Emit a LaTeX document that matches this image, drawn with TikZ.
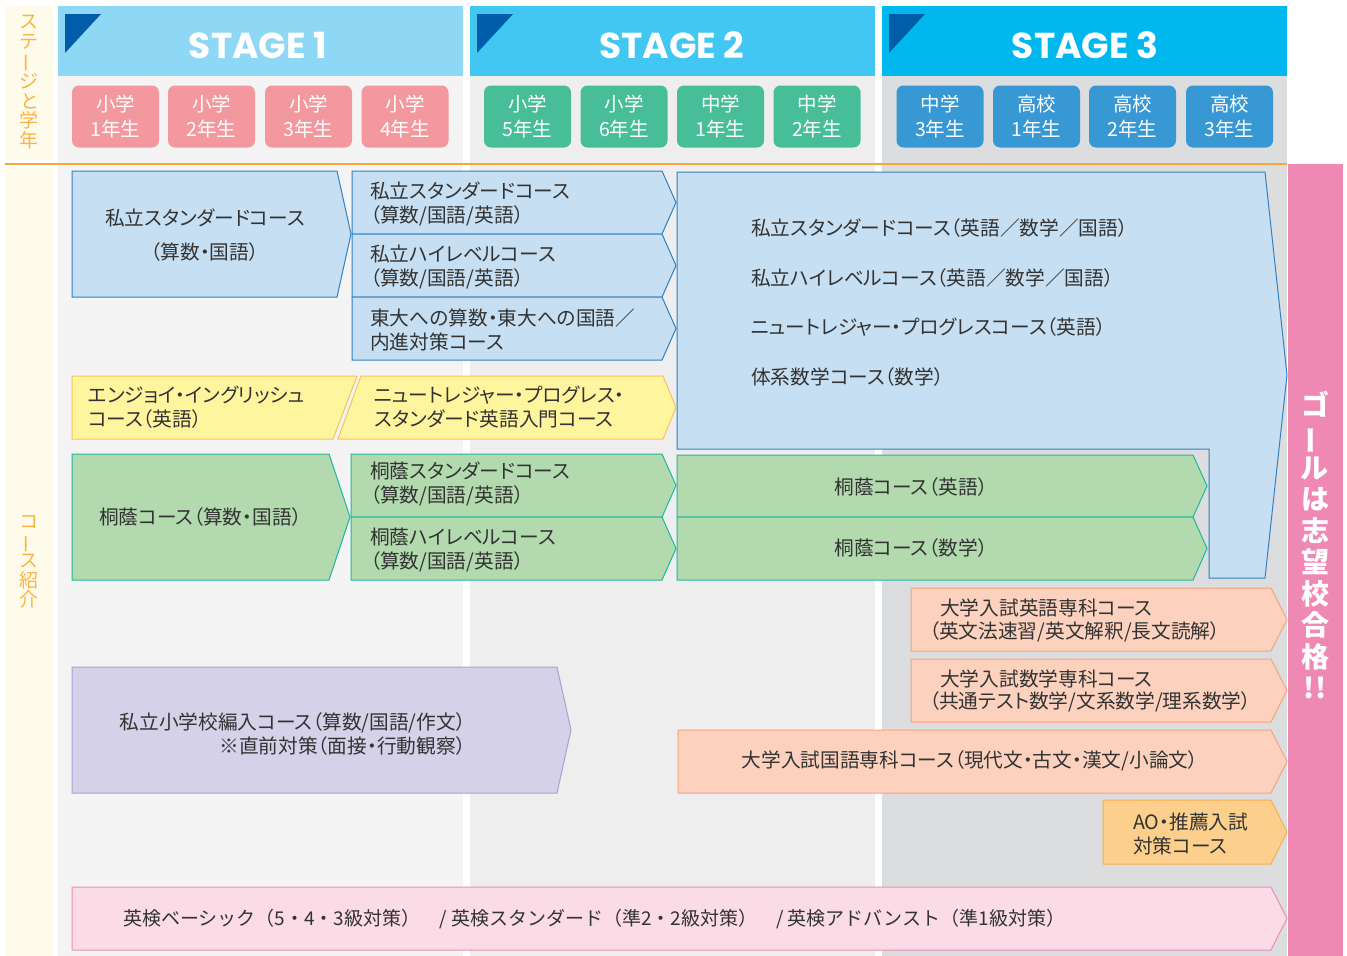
\documentclass[tikz,border=0pt]{standalone}
\usepackage{fontspec}
\usepackage{graphicx}
\setmainfont{Noto Sans CJK JP}[RawFeature=+palt]
\newfontfamily\jpfull{Noto Sans CJK JP}
\newfontfamily\stagefont{Poppins}
\newcommand\vlong{\rotatebox[origin=c]{90}{ー}}
\definecolor{sOne}{HTML}{8FD8F5}
\definecolor{sTwo}{HTML}{42C6F2}
\definecolor{sThree}{HTML}{00B8EE}
\definecolor{darktri}{HTML}{005DAA}
\definecolor{pinkg}{HTML}{F3989F}
\definecolor{greeng}{HTML}{48BE98}
\definecolor{blueg}{HTML}{3798D4}
\definecolor{colOne}{HTML}{F4F4F4}
\definecolor{colTwo}{HTML}{EEEEEE}
\definecolor{colThree}{HTML}{DCDDDF}
\definecolor{cream}{HTML}{FFFBEA}
\definecolor{orangeline}{HTML}{F6A93B}
\definecolor{labelor}{HTML}{F9B443}
\definecolor{goalpink}{HTML}{F088B4}
\definecolor{txt}{HTML}{333333}
\definecolor{bluefill}{HTML}{C7DFF2}
\definecolor{bluestroke}{HTML}{3280C4}
\definecolor{yelfill}{HTML}{FFF59E}
\definecolor{yelstroke}{HTML}{F8C35A}
\definecolor{grnfill}{HTML}{B3DAAF}
\definecolor{grnstroke}{HTML}{20B89B}
\definecolor{purfill}{HTML}{D4D1E8}
\definecolor{purstroke}{HTML}{A6A2D2}
\definecolor{salfill}{HTML}{FCD2BF}
\definecolor{salstroke}{HTML}{F6A380}
\definecolor{aofill}{HTML}{FCD08C}
\definecolor{aostroke}{HTML}{F6B04A}
\definecolor{ekfill}{HTML}{FADBE6}
\definecolor{ekstroke}{HTML}{EF8CB6}
\tikzset{
  ctext/.style={font=\fontsize{19.7}{24}\selectfont, text=txt, inner sep=0pt, align=left},
  grade/.style={rounded corners=7pt, minimum width=87pt, minimum height=62pt, inner sep=0pt, text=white, align=center, font=\fontsize{19.5}{25}\selectfont},
  stagetxt/.style={text=white, inner sep=0pt, font=\stagefont\bfseries\fontsize{36}{36}\selectfont},
  vlabel/.style={text=labelor, inner sep=0pt, align=center, font=\fontsize{19}{19.5}\selectfont},
  bluebox/.style={fill=bluefill, draw=bluestroke, line width=1pt},
  yelbox/.style={fill=yelfill, draw=yelstroke, line width=1pt},
  grnbox/.style={fill=grnfill, draw=grnstroke, line width=1pt},
  purbox/.style={fill=purfill, draw=purstroke, line width=1pt},
  salbox/.style={fill=salfill, draw=salstroke, line width=1pt},
  aobox/.style={fill=aofill, draw=aostroke, line width=1pt},
  ekbox/.style={fill=ekfill, draw=ekstroke, line width=1pt},
}
\begin{document}
\begin{tikzpicture}[x=1pt,y=-1pt]
\useasboundingbox (0,0) rectangle (1347,956);
\fill[white] (0,0) rectangle (1347,956);
% backgrounds
\fill[cream] (5,6) rectangle (53,160);
\fill[cream] (5,168) rectangle (53,956);
\fill[colOne] (58,76) rectangle (463,956);
\fill[colTwo] (470,76) rectangle (875,956);
\fill[colThree] (882,76) rectangle (1287,956);
\fill[goalpink] (1288,164) rectangle (1343,956);
\draw[orangeline, line width=2pt] (5,164) -- (1287,164);
% stage bands
\fill[sOne] (58,6) rectangle (463,76);
\fill[sTwo] (470,6) rectangle (875,76);
\fill[sThree] (882,6) rectangle (1287,76);
\fill[darktri] (65,14) -- (101,14) -- (65,53) -- cycle;
\fill[darktri] (477,14) -- (513,14) -- (477,53) -- cycle;
\fill[darktri] (889,14) -- (925,14) -- (889,53) -- cycle;
\node[stagetxt] (st1) at (258,45) {STAGE 1};
\node[stagetxt] (st2) at (672,45) {STAGE 2};
\node[stagetxt] (st3) at (1085,45) {STAGE 3};
% grade boxes
\node[grade, fill=pinkg] (g1) at (115.5,116.5) {小学\\1年生};
\node[grade, fill=pinkg] (g2) at (211.5,116.5) {小学\\2年生};
\node[grade, fill=pinkg] (g3) at (308.5,116.5) {小学\\3年生};
\node[grade, fill=pinkg] (g4) at (405,116.5) {小学\\4年生};
\node[grade, fill=greeng] (g5) at (527.5,116.5) {小学\\5年生};
\node[grade, fill=greeng] (g6) at (624,116.5) {小学\\6年生};
\node[grade, fill=greeng] (g7) at (720.5,116.5) {中学\\1年生};
\node[grade, fill=greeng] (g8) at (817,116.5) {中学\\2年生};
\node[grade, fill=blueg] (g9) at (940,116.5) {中学\\3年生};
\node[grade, fill=blueg] (g10) at (1036.5,116.5) {高校\\1年生};
\node[grade, fill=blueg] (g11) at (1132.5,116.5) {高校\\2年生};
\node[grade, fill=blueg] (g12) at (1229.5,116.5) {高校\\3年生};
% side labels
\node[vlabel] (lab1) at (29,82) {ス\\テ\\\vlong\\ジ\\と\\学\\年};
\node[vlabel] (lab2) at (29,562) {コ\\\vlong\\ス\\紹\\介};
\node[text=white, inner sep=0pt, align=center, font=\bfseries\fontsize{28}{31.5}\selectfont] (goal) at (1315,545) {ゴ\\\vlong\\ル\\は\\志\\望\\校\\合\\格\\!!};
% blue boxes
\draw[bluebox] (72,171) -- (337,171) -- (351,234) -- (337,297) -- (72,297) -- cycle;
\draw[bluebox] (352,171) -- (662,171) -- (676,202.5) -- (662,234) -- (352,234) -- cycle;
\draw[bluebox] (352,234) -- (662,234) -- (676,265.5) -- (662,297) -- (352,297) -- cycle;
\draw[bluebox] (352,297) -- (662,297) -- (676,328.5) -- (662,360) -- (352,360) -- cycle;
\draw[bluebox] (677,172) -- (1265,172) -- (1287,375) -- (1265,578) -- (1209,578) -- (1209,449) -- (677,449) -- cycle;
% yellow
\draw[yelbox] (72,376) -- (357,376) -- (333,439) -- (72,439) -- cycle;
\draw[yelbox] (361,376) -- (663,376) -- (676,407.5) -- (663,439) -- (338,439) -- cycle;
% green
\draw[grnbox] (72,454) -- (329,454) -- (350,517) -- (329,580) -- (72,580) -- cycle;
\draw[grnbox] (351,454) -- (662,454) -- (676,485.5) -- (662,517) -- (351,517) -- cycle;
\draw[grnbox] (351,517) -- (662,517) -- (676,548.5) -- (662,580) -- (351,580) -- cycle;
\draw[grnbox] (677,455) -- (1193,455) -- (1207,486) -- (1193,517) -- (677,517) -- cycle;
\draw[grnbox] (677,517) -- (1193,517) -- (1207,548.5) -- (1193,580) -- (677,580) -- cycle;
% purple
\draw[purbox] (72,667) -- (557,667) -- (571,730) -- (557,793) -- (72,793) -- cycle;
% salmon etc
\draw[salbox] (911,588) -- (1271,588) -- (1287,619.5) -- (1271,651) -- (911,651) -- cycle;
\draw[salbox] (911,659) -- (1271,659) -- (1287,690.5) -- (1271,722) -- (911,722) -- cycle;
\draw[salbox] (678,730) -- (1271,730) -- (1287,761.5) -- (1271,793) -- (678,793) -- cycle;
\draw[aobox] (1103,800) -- (1271,800) -- (1287,832) -- (1271,864) -- (1103,864) -- cycle;
\draw[ekbox] (72,887) -- (1271,887) -- (1287,918.5) -- (1271,950) -- (72,950) -- cycle;
% texts
\node[ctext, align=center, font=\fontsize{19.7}{34}\selectfont] (t1) at (205,235) {私立スタンダードコース\\（算数・国語）};
\node[ctext, anchor=west] (t2) at (370,204) {私立スタンダードコース\\（算数/国語/英語）};
\node[ctext, anchor=west] (t3) at (370,267) {私立ハイレベルコース\\（算数/国語/英語）};
\node[ctext, anchor=west] (t4) at (370,329.5) {東大への算数・東大への国語／\\内進対策コース};
\node[ctext, anchor=west] (t5) at (751,228) {私立スタンダードコース（英語／数学／国語）};
\node[ctext, anchor=west] (t6) at (751,278) {私立ハイレベルコース（英語／数学／国語）};
\node[ctext, anchor=west] (t7) at (751,327) {ニュートレジャー・プログレスコース（英語）};
\node[ctext, anchor=west] (t8) at (751,377) {体系数学コース（数学）};
\node[ctext, anchor=west] (t9) at (88,407) {エンジョイ・イングリッシュ\\コース（英語）};
\node[ctext, anchor=west] (t10) at (374,407) {ニュートレジャー・プログレス・\\スタンダード英語入門コース};
\node[ctext, anchor=west] (t11) at (99,517) {桐蔭コース（算数・国語）};
\node[ctext, anchor=west] (t12) at (370,484) {桐蔭スタンダードコース\\（算数/国語/英語）};
\node[ctext, anchor=west] (t13) at (370,550) {桐蔭ハイレベルコース\\（算数/国語/英語）};
\node[ctext] (t14) at (911,487) {桐蔭コース（英語）};
\node[ctext] (t15) at (911,548) {桐蔭コース（数学）};
\node[ctext, align=right, anchor=east] (t16) at (466,734.5) {私立小学校編入コース（算数/国語/作文）\\※直前対策（面接・行動観察）};
\node[ctext, anchor=west] (t17) at (940,608) {大学入試英語専科コース};
\node[ctext, anchor=west] (t18) at (929,632) {（英文法速習/英文解釈/長文読解）};
\node[ctext, anchor=west] (t19) at (940,679) {大学入試数学専科コース};
\node[ctext, anchor=west] (t20) at (929,702) {（共通テスト数学/文系数学/理系数学）};
\node[ctext] (t21) at (970,761) {大学入試国語専科コース（現代文・古文・漢文/小論文）};
\node[ctext, anchor=west] (t22) at (1133,833.5) {AO・推薦入試\\対策コース};
\node[ctext, anchor=west, font=\jpfull\fontsize{19}{24}\selectfont] (t23) at (123,919) {英検ベーシック（5・4・3級対策）　/ 英検スタンダード（準2・2級対策）　/ 英検アドバンスト（準1級対策）};
\end{tikzpicture}
\end{document}
